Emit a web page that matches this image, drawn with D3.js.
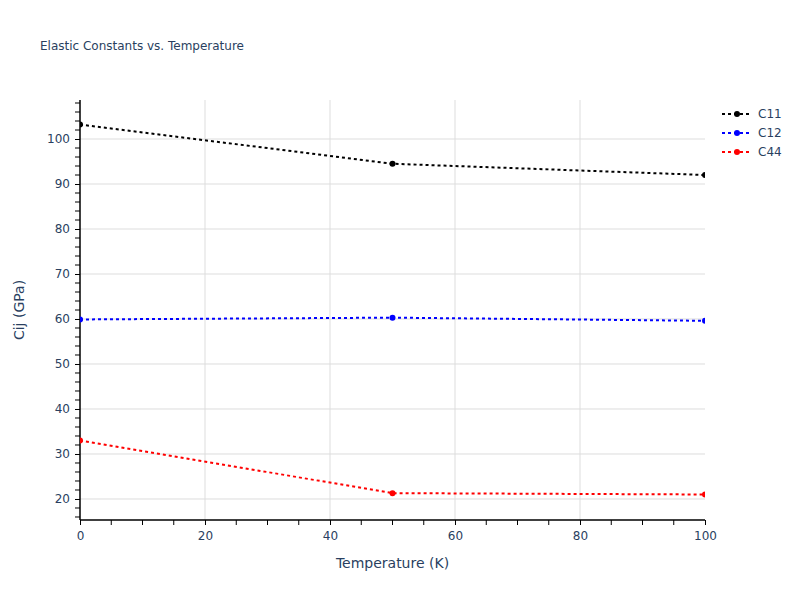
<!DOCTYPE html>
<html><head><meta charset="utf-8">
<script src="https://cdn.jsdelivr.net/npm/d3@7"></script>
<style>body{margin:0;background:#fff}text{font-family:"DejaVu Sans",Verdana,Arial,sans-serif}</style>
</head><body><svg id="c" width="800" height="600"></svg>
<script>
const temps = [0, 50, 100];
const c11 = [103.2, 94.5, 92.0];
const c12 = [59.9, 60.3, 59.6];
const c44 = [33.0, 21.3, 21.0];
const seriesNames = ["C11", "C12", "C44"];
const seriesColors = ["#000000", "#0000ff", "#ff0000"];
const xTicks = [0, 20, 40, 60, 80, 100];
const yTicks = [20, 30, 40, 50, 60, 70, 80, 90, 100];

const series = [c11, c12, c44].map((v, i) => ({name: seriesNames[i], color: seriesColors[i], pts: temps.map((t, j) => [t, v[j]])}));

const svg = d3.select("#c");
const L = 80, R = 705, T = 100, B = 520;
const x = d3.scaleLinear().domain([0, 100]).range([L, R]);
const y = d3.scaleLinear().domain([15.33, 108.67]).range([B, T]);
const tc = "#2a3f5f";

// grid
svg.append("g").selectAll("line").data(xTicks.filter(d => d > 0 && d < 100)).join("line")
  .attr("x1", d => x(d)).attr("x2", d => x(d)).attr("y1", T).attr("y2", B)
  .attr("stroke", "#dddddd").attr("stroke-width", 1);
svg.append("g").selectAll("line").data(yTicks).join("line")
  .attr("x1", L).attr("x2", R).attr("y1", d => y(d)).attr("y2", d => y(d))
  .attr("stroke", "#dddddd").attr("stroke-width", 1);

// minor ticks
const yMinor = d3.range(16, 109, 2).filter(d => d % 10 !== 0);
svg.append("g").selectAll("line").data(yMinor).join("line")
  .attr("x1", L - 5).attr("x2", L).attr("y1", d => y(d)).attr("y2", d => y(d))
  .attr("stroke", "#000").attr("stroke-width", 1);
const xMinor = d3.range(5, 100, 5).filter(d => d % 20 !== 0);
svg.append("g").selectAll("line").data(xMinor).join("line")
  .attr("x1", d => x(d)).attr("x2", d => x(d)).attr("y1", B).attr("y2", B + 5)
  .attr("stroke", "#000").attr("stroke-width", 1);

// axes
const xa = svg.append("g").attr("transform", `translate(0,${B})`)
  .call(d3.axisBottom(x).tickValues(xTicks).tickSize(5).tickPadding(6).tickFormat(d3.format("d")));
const ya = svg.append("g").attr("transform", `translate(${L},0)`)
  .call(d3.axisLeft(y).tickValues(yTicks).tickSize(5).tickPadding(5).tickFormat(d3.format("d")));
[xa, ya].forEach(a => {
  a.select(".domain").attr("stroke", "#000").attr("stroke-width", 1.5);
  a.selectAll(".tick line").attr("stroke", "#000");
  a.selectAll(".tick text").attr("fill", tc).style("font-size", "12px");
});
ya.select(".domain").attr("d", `M0,${B}V${T}`);
xa.select(".domain").attr("d", `M${L},0H${R}`);

// clip
svg.append("clipPath").attr("id", "clip").append("rect").attr("x", L).attr("y", T).attr("width", R - L).attr("height", B - T);

const line = d3.line().x(d => x(d[0])).y(d => y(d[1]));
const plot = svg.append("g").attr("clip-path", "url(#clip)");
series.forEach(s => {
  plot.append("path").attr("d", line(s.pts)).attr("fill", "none")
    .attr("stroke", s.color).attr("stroke-width", 2).attr("stroke-dasharray", "3,3");
  plot.selectAll(null).data(s.pts).join("circle")
    .attr("cx", d => x(d[0])).attr("cy", d => y(d[1])).attr("r", 3).attr("fill", s.color);
});

// titles
svg.append("text").attr("x", 40).attr("y", 50).attr("fill", tc).style("font-size", "12px").text("Elastic Constants vs. Temperature");
svg.append("text").attr("x", (L + R) / 2).attr("y", 568).attr("text-anchor", "middle").attr("fill", tc).style("font-size", "14px").text("Temperature (K)");
svg.append("text").attr("transform", `translate(24,${(T + B) / 2}) rotate(-90)`).attr("text-anchor", "middle").attr("fill", tc).style("font-size", "14px").text("Cij (GPa)");

// legend
const lg = svg.append("g");
series.forEach((s, i) => {
  const yy = 114 + i * 19;
  lg.append("line").attr("x1", 722).attr("x2", 752).attr("y1", yy).attr("y2", yy)
    .attr("stroke", s.color).attr("stroke-width", 2).attr("stroke-dasharray", "3,3");
  lg.append("circle").attr("cx", 737).attr("cy", yy).attr("r", 3).attr("fill", s.color);
  lg.append("text").attr("x", 758).attr("y", yy + 4).attr("fill", tc).style("font-size", "12px").text(s.name);
});
</script></body></html>
